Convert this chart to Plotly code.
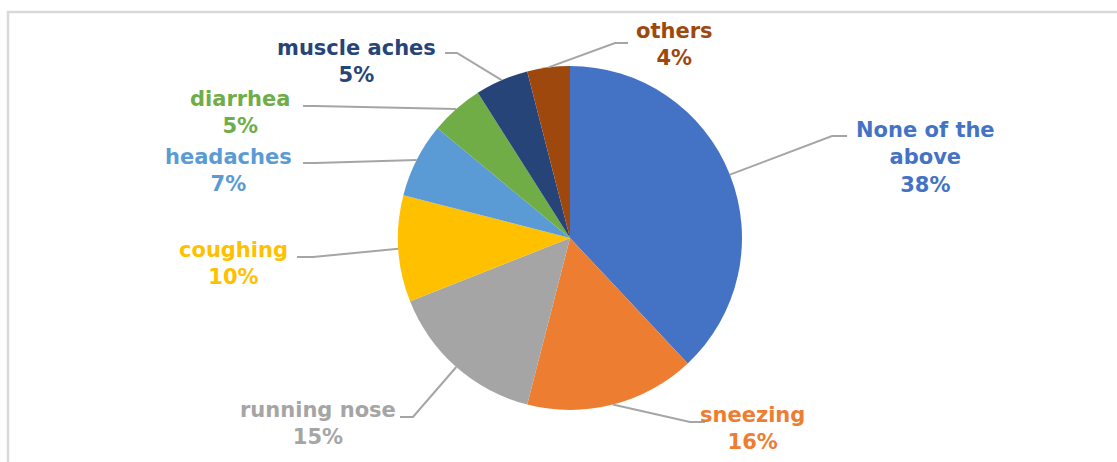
import math
import plotly.graph_objects as go

# ---- data ----
categories = ["None of the above", "sneezing", "running nose", "coughing",
              "headaches", "diarrhea", "muscle aches", "others"]
values = [38, 16, 15, 10, 7, 5, 5, 4]
colors = ["#4472C4", "#ED7D31", "#A5A5A5", "#FFC000",
          "#5B9BD5", "#70AD47", "#264478", "#9E480E"]

# ---- layout geometry (pixels) ----
W, H = 1117, 462
CX, CY, R = 570, 238, 172

# label centers and leader elbows/ends (pixels)
label_pos = [(925, 157), (752, 428), (318, 423), (233, 263),
             (228, 170), (240, 112), (356, 61), (674, 44)]
leader_pts = [
    [(832, 136), (847, 136)],
    [(690, 422), (705, 422)],
    [(413, 417), (400, 417)],
    [(313, 257), (297, 257)],
    [(315, 163), (303, 163)],
    [(315, 106), (303, 106)],
    [(457, 53), (445, 53)],
    [(615, 43), (628, 43)],
]


def px(x):
    return x / W


def py(y):
    return 1 - y / H


fig = go.Figure(go.Pie(
    labels=categories, values=values, sort=False, direction="clockwise",
    rotation=0, marker=dict(colors=colors, line=dict(width=0)),
    textinfo="none", hoverinfo="label+percent", showlegend=False,
    domain=dict(x=[px(CX - R), px(CX + R)], y=[py(CY + R), py(CY - R)]),
))

total = sum(values)
shapes = []
annotations = []
cum = 0
for cat, val, col, (lx, ly), pts in zip(categories, values, colors, label_pos, leader_pts):
    mid = (cum + val / 2) / total * 2 * math.pi
    cum += val
    ex = CX + R * math.sin(mid)
    ey = CY - R * math.cos(mid)
    path = f"M {px(ex)} {py(ey)}"
    for (x, y) in pts:
        path += f" L {px(x)} {py(y)}"
    shapes.append(dict(type="path", xref="paper", yref="paper", path=path,
                       line=dict(color="#A5A5A5", width=2)))
    name = cat.replace("None of the above", "None of the<br>above")
    annotations.append(dict(
        x=px(lx), y=py(ly), xref="paper", yref="paper",
        xanchor="center", yanchor="middle", showarrow=False,
        text=f"<b>{name}<br>{round(val / total * 100)}%</b>",
        font=dict(family="DejaVu Sans", size=21, color=col), align="center"))

# chart frame
shapes.append(dict(type="rect", xref="paper", yref="paper",
                   x0=px(8), x1=1.02, y0=-0.05, y1=py(12),
                   line=dict(color="#D9D9D9", width=2.5)))

fig.update_layout(
    width=W, height=H, margin=dict(l=0, r=0, t=0, b=0),
    paper_bgcolor="white", plot_bgcolor="white",
    shapes=shapes, annotations=annotations,
)

fig.write_html("out.html")
